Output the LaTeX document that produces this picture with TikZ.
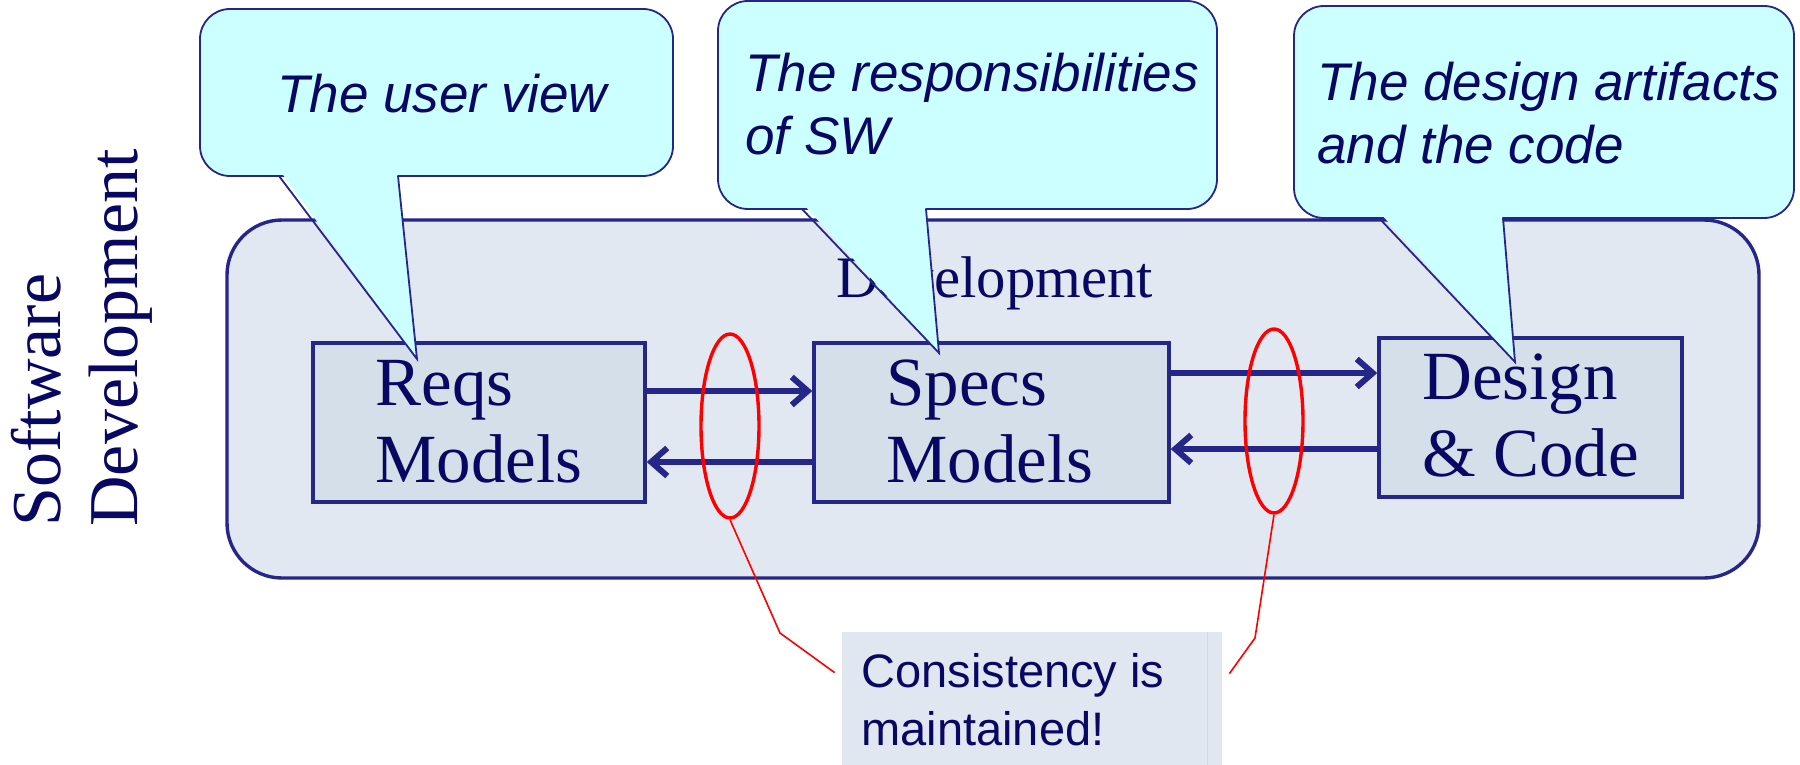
\documentclass[tikz,border=0pt]{standalone}
\usepackage{fontspec}
\setmainfont{Liberation Serif}
\setsansfont{Liberation Sans}
\usetikzlibrary{arrows.meta,shapes.geometric,calc}

\definecolor{ink}{RGB}{8,8,100}
\definecolor{cline}{RGB}{38,38,136}
\definecolor{cfill}{RGB}{204,255,255}
\definecolor{devfill}{RGB}{225,232,241}
\definecolor{boxfill}{RGB}{213,223,233}
\definecolor{notefill}{RGB}{224,231,240}
\definecolor{noteedge}{RGB}{208,216,228}

\begin{document}
\begin{tikzpicture}[x=0.5pt, y=-0.5pt,
  serifbig/.style={font=\rmfamily\fontsize{34.5}{38.5}\selectfont},
  bubbletext/.style={font=\sffamily\itshape\fontsize{26.5}{31.5}\selectfont, text=ink, anchor=base west, align=left, inner sep=0pt},
  label/.style={text=ink, anchor=base west, align=left, inner sep=0pt},
  devframe/.style={draw=cline, fill=devfill, line width=1.7pt, rounded corners=27.5pt},
  modelbox/.style={draw=cline, fill=boxfill, line width=1.7pt},
  arr/.style={draw=cline, line width=3pt, -{Straight Barb[length=8pt, width=14pt]}},
  loop/.style={draw=red, line width=1.7pt, ellipse, minimum width=29pt, minimum height=92pt},
  bubble/.style={fill=cfill, draw=cline, line width=0.9pt},
  redline/.style={draw=red, line width=0.8pt}]

\useasboundingbox (0,0) rectangle (1800,765);
\fill[white] (0,0) rectangle (1800,765);

% rotated side title (anchored on the baseline of its last line)
\node[label, rotate=90, font=\rmfamily\fontsize{35}{38.5}\selectfont] (title) at (137,527) {Software\\Development};

% development frame and its caption
\node[devframe, minimum width=766pt, minimum height=179pt] (dev) at (993,399) {};
\node[label, font=\rmfamily\fontsize{29.4}{32}\selectfont] (devlabel) at (836,297) {Development};

% the three model boxes
\node[modelbox, minimum width=166pt, minimum height=79.5pt] (reqs) at (479,422.5) {};
\node[modelbox, minimum width=177.5pt, minimum height=79.5pt] (specs) at (991.5,422.5) {};
\node[modelbox, minimum width=151.5pt, minimum height=79.5pt] (design) at (1530.5,417.5) {};
\node[label, serifbig] (reqsT) at (375,482) {Reqs\\Models};
\node[label, serifbig] (specsT) at (886,482) {Specs\\Models};
\node[label, serifbig] (designT) at (1422,476) {Design\\\& Code};

% flows between the models
\draw[arr] ([yshift=15.75pt]reqs.east) -- ([yshift=15.75pt]reqs.east -| specs.west);
\draw[arr] ([yshift=-19.75pt]specs.west) -- ([yshift=-19.75pt]specs.west -| reqs.east);
\draw[arr] ([yshift=24.75pt]specs.east) -- ([yshift=24.75pt]specs.east -| design.west);
\draw[arr] ([yshift=-15.75pt]design.west) -- ([yshift=-15.75pt]design.west -| specs.east);

% consistency loops
\node[loop] (loopA) at (730,426) {};
\node[loop] (loopB) at (1274,421) {};

% speech bubbles
\filldraw[bubble, rounded corners=15pt] (200,9) rectangle (673,176);
\fill[cfill] (281,172) -- (417,359) -- (397,172) -- cycle;
\draw[bubble, fill=none] (279,176) -- (417,359) -- (398,176);
\node[bubbletext] (bubA) at (277,113) {The user view};

\filldraw[bubble, rounded corners=15pt] (718,1) rectangle (1217,209);
\fill[cfill] (804,205) -- (939,353) -- (925,205) -- cycle;
\draw[bubble, fill=none] (802,209) -- (939,353) -- (926,209);
\node[bubbletext] (bubB) at (745,155) {The responsibilities\\of SW};

\filldraw[bubble, rounded corners=15pt] (1294,6) rectangle (1794,218);
\fill[cfill] (1381,214) -- (1515,362) -- (1502,214) -- cycle;
\draw[bubble, fill=none] (1379,218) -- (1515,362) -- (1503,218);
\node[bubbletext] (bubC) at (1317,163) {The design artifacts\\and the code};

% note with its leader lines
\node[fill=notefill, minimum width=190pt, minimum height=71.5pt, inner sep=0pt] (note) at (1032,703.5) {};
\draw[noteedge, line width=0.6pt] ($(note.north east)+(-15,0)$) -- ($(note.south east)+(-15,0)$);
\node[label, font=\sffamily\fontsize{23.5}{29}\selectfont] (noteT) at (861,745) {Consistency is\\maintained!};
\coordinate (kneeA) at (780,633);
\coordinate (kneeB) at (1255,638);
\draw[redline] (loopA.south) -- (kneeA) -- ($(note.north west)+(-7,41)$);
\draw[redline] (loopB.south) -- (kneeB) -- ($(note.north east)+(7,42)$);

\end{tikzpicture}
\end{document}
